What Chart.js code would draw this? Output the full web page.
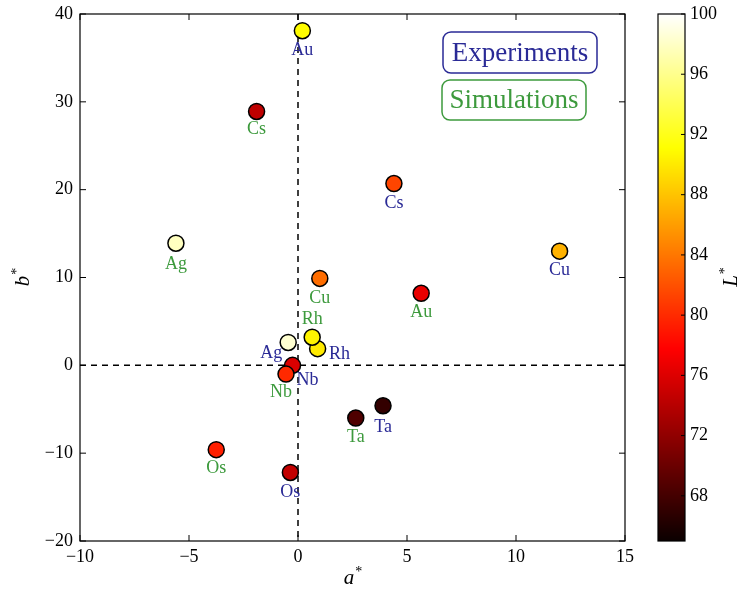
<!DOCTYPE html>
<html>
<head>
<meta charset="utf-8">
<script src="https://cdn.jsdelivr.net/npm/chart.js@4.4.0/dist/chart.umd.min.js"></script>
<style>
  html, body { margin: 0; padding: 0; background: #fff; }
  #wrap { width: 739px; height: 592px; }
</style>
</head>
<body>
<div id="wrap"><canvas id="chart" width="739" height="592"></canvas></div>
<script>
// experiments
const expNames = ["Au", "Cs", "Cu", "Rh", "Ag", "Nb", "Ta", "Os"];
const expA = [0.2, 4.4, 12.0, 0.9, -0.45, -0.25, 3.9, -0.35];
const expB = [38.1, 20.7, 13.0, 1.9, 2.6, 0.0, -4.6, -12.2];
const expL = [91.0, 81.4, 87.1, 90.0, 98.4, 75.9, 67.1, 74.6];

// simulations
const simNames = ["Cs", "Ag", "Cu", "Au", "Rh", "Nb", "Ta", "Os"];
const simA = [-1.9, -5.6, 1.0, 5.65, 0.65, -0.55, 2.65, -3.75];
const simB = [28.9, 13.9, 9.9, 8.2, 3.2, -1.0, -6.0, -9.6];
const simL = [74.4, 97.8, 83.5, 76.7, 90.5, 79.9, 68.6, 79.4];

const xTicks = [-10, -5, 0, 5, 10, 15];
const yTicks = [-20, -10, 0, 10, 20, 30, 40];
const cbarTicks = [68, 72, 76, 80, 84, 88, 92, 96, 100];
const lMin = 65, lMax = 100;

// label offsets in px (dx, dy) from the marker
const expOffsets = [[0, 20], [0, 20], [0, 19], [22, 6], [-17, 11], [15, 15], [0, 22], [0, 20]];
const simOffsets = [[0, 18], [0, 21], [0, 20], [0, 19], [0, -18], [-5, 18], [0, 19], [0, 19]];

const BLUE = "#2a2a96";
const GREEN = "#3d9a3d";
const FONT = "'Liberation Serif', 'DejaVu Serif', serif";

// matplotlib "hot"
function hot(t) {
  t = Math.max(0, Math.min(1, t));
  const r = Math.min(1, 0.0416 + (1 - 0.0416) * t / 0.365079);
  const g = Math.max(0, Math.min(1, (t - 0.365079) / (0.746032 - 0.365079)));
  const b = Math.max(0, Math.min(1, (t - 0.746032) / (1 - 0.746032)));
  return "rgb(" + Math.round(r * 255) + "," + Math.round(g * 255) + "," + Math.round(b * 255) + ")";
}
const colorFor = L => hot((L - lMin) / (lMax - lMin));

const fmt = v => (v < 0 ? "\u2212" + Math.abs(v) : String(v));

function makeSet(label, names, a, b, L, col, offsets) {
  return {
    label: label,
    data: a.map((v, i) => ({ x: v, y: b[i] })),
    names: names,
    textColor: col,
    offsets: offsets,
    pointRadius: 8,
    pointHoverRadius: 8,
    pointBackgroundColor: L.map(colorFor),
    pointBorderColor: "#000",
    pointBorderWidth: 1.5,
    showLine: false
  };
}

const noPad = s => { s.paddingTop = 0; s.paddingBottom = 0; s.paddingLeft = 0; s.paddingRight = 0; };

const decor = {
  id: "decor",
  beforeDatasetsDraw(chart) {
    const { ctx, chartArea: ca, scales } = chart;
    const x = scales.x, y = scales.y;
    ctx.save();
    ctx.strokeStyle = "#000";
    ctx.lineWidth = 1.5;
    ctx.setLineDash([6, 5]);
    const x0 = x.getPixelForValue(0), y0 = y.getPixelForValue(0);
    ctx.beginPath();
    ctx.moveTo(x0, ca.top); ctx.lineTo(x0, ca.bottom);
    ctx.moveTo(ca.left, y0); ctx.lineTo(ca.right, y0);
    ctx.stroke();
    ctx.restore();
  },
  afterDatasetsDraw(chart) {
    const { ctx, chartArea: ca, scales } = chart;
    const x = scales.x, y = scales.y, c = scales.cbar;
    ctx.save();

    // point labels
    ctx.font = "18px " + FONT;
    ctx.textAlign = "center";
    ctx.textBaseline = "middle";
    chart.data.datasets.forEach((ds, di) => {
      const meta = chart.getDatasetMeta(di);
      meta.data.forEach((pt, i) => {
        ctx.fillStyle = ds.textColor;
        ctx.fillText(ds.names[i], pt.x + ds.offsets[i][0], pt.y + ds.offsets[i][1]);
      });
    });

    // axes frame and inward ticks
    ctx.strokeStyle = "#000";
    ctx.lineWidth = 1.2;
    ctx.strokeRect(ca.left, ca.top, ca.right - ca.left, ca.bottom - ca.top);
    ctx.lineWidth = 1;
    ctx.beginPath();
    xTicks.forEach(v => {
      const px = x.getPixelForValue(v);
      ctx.moveTo(px, ca.bottom); ctx.lineTo(px, ca.bottom - 6);
      ctx.moveTo(px, ca.top); ctx.lineTo(px, ca.top + 6);
    });
    yTicks.forEach(v => {
      const py = y.getPixelForValue(v);
      ctx.moveTo(ca.left, py); ctx.lineTo(ca.left + 6, py);
      ctx.moveTo(ca.right, py); ctx.lineTo(ca.right - 6, py);
    });
    ctx.stroke();

    // colorbar
    const cbL = ca.right + 33, cbW = 27;
    const top = c.getPixelForValue(lMax), bot = c.getPixelForValue(lMin);
    for (let py = Math.floor(top); py < bot; py++) {
      ctx.fillStyle = colorFor(c.getValueForPixel(py + 0.5));
      ctx.fillRect(cbL, py, cbW, 1);
    }
    ctx.lineWidth = 1.2;
    ctx.strokeRect(cbL, top, cbW, bot - top);
    ctx.lineWidth = 1;
    ctx.beginPath();
    cbarTicks.forEach(v => {
      const py = c.getPixelForValue(v);
      ctx.moveTo(cbL + cbW, py); ctx.lineTo(cbL + cbW - 4, py);
    });
    ctx.stroke();

    // axis titles with superscript star
    function starLabel(base, cx, cy) {
      ctx.font = "italic 21px " + FONT;
      const w = ctx.measureText(base).width;
      ctx.font = "14px " + FONT;
      const ws = ctx.measureText("*").width;
      const start = cx - (w + ws) / 2;
      ctx.textAlign = "left";
      ctx.textBaseline = "alphabetic";
      ctx.font = "italic 21px " + FONT;
      ctx.fillText(base, start, cy);
      ctx.font = "14px " + FONT;
      ctx.fillText("*", start + w + 1, cy - 8);
    }
    ctx.fillStyle = "#000";
    starLabel("a", (ca.left + ca.right) / 2, 584);
    ctx.save();
    ctx.translate(29, (ca.top + ca.bottom) / 2);
    ctx.rotate(-Math.PI / 2);
    starLabel("b", 0, 0);
    ctx.restore();
    ctx.save();
    ctx.translate(737, (ca.top + ca.bottom) / 2);
    ctx.rotate(-Math.PI / 2);
    starLabel("L", 0, 0);
    ctx.restore();

    // legend boxes
    function box(text, col, bx, by, bw, bh) {
      ctx.strokeStyle = col;
      ctx.lineWidth = 1.5;
      ctx.beginPath();
      ctx.roundRect(bx, by, bw, bh, 8);
      ctx.stroke();
      ctx.fillStyle = col;
      ctx.font = "27px " + FONT;
      ctx.textAlign = "center";
      ctx.textBaseline = "middle";
      ctx.fillText(text, bx + bw / 2, by + bh / 2 + 1);
    }
    box("Experiments", BLUE, 443, 32, 154, 41);
    box("Simulations", GREEN, 442, 80, 144, 40);

    ctx.restore();
  }
};

new Chart(document.getElementById("chart"), {
  type: "scatter",
  data: {
    datasets: [
      makeSet("Simulations", simNames, simA, simB, simL, GREEN, simOffsets),
      makeSet("Experiments", expNames, expA, expB, expL, BLUE, expOffsets)
    ]
  },
  options: {
    responsive: false,
    animation: false,
    events: [],
    layout: { padding: { top: 14, left: 0, right: 0, bottom: 0 } },
    plugins: { legend: { display: false }, tooltip: { enabled: false } },
    scales: {
      x: {
        type: "linear",
        min: -10, max: 15,
        grid: { display: false, drawTicks: false },
        border: { display: false },
        afterBuildTicks: s => { s.ticks = xTicks.map(v => ({ value: v })); },
        afterFit: s => { s.height = 51; noPad(s); },
        ticks: { color: "#000", padding: 5, font: { family: FONT, size: 18 }, callback: fmt, maxRotation: 0 }
      },
      y: {
        type: "linear",
        min: -20, max: 40,
        grid: { display: false, drawTicks: false },
        border: { display: false },
        afterBuildTicks: s => { s.ticks = yTicks.map(v => ({ value: v })); },
        afterFit: s => { s.width = 80; noPad(s); },
        ticks: { color: "#000", padding: 7, font: { family: FONT, size: 18 }, callback: fmt }
      },
      cbar: {
        type: "linear",
        position: "right",
        min: lMin, max: lMax,
        grid: { display: false, drawTicks: false },
        border: { display: false },
        afterBuildTicks: s => { s.ticks = cbarTicks.map(v => ({ value: v })); },
        afterFit: s => { s.width = 114; noPad(s); },
        ticks: { color: "#000", padding: 65, font: { family: FONT, size: 18 } }
      }
    }
  },
  plugins: [decor]
});
</script>
</body>
</html>
